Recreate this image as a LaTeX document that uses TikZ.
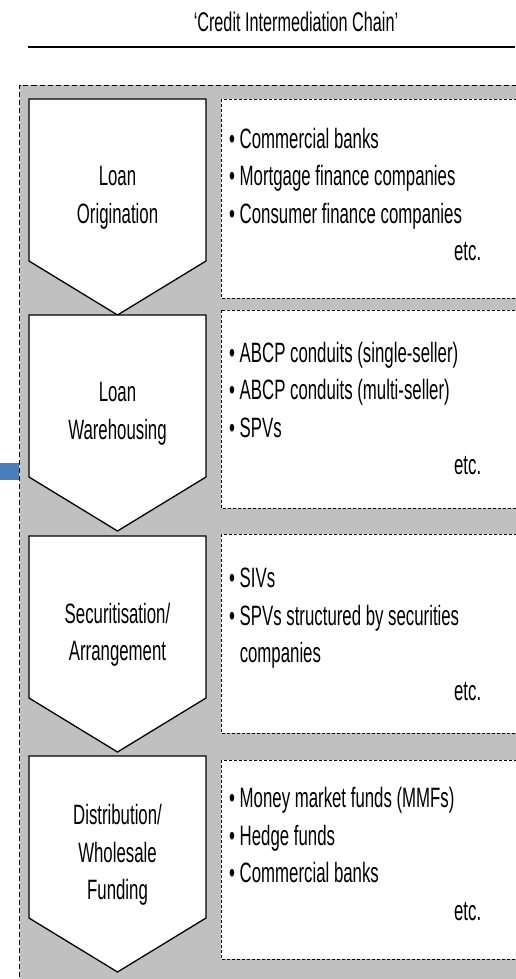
\documentclass[tikz,border=0pt]{standalone}
\usepackage{fontspec}
\setmainfont[FakeStretch=0.6]{Liberation Sans}
\definecolor{panelgray}{HTML}{C0C0C0}
\definecolor{markblue}{HTML}{4A7EBB}
\newcommand{\stagefont}{\fontsize{28}{37.5}\selectfont}

\begin{document}
\begin{tikzpicture}[x=1pt,y=-1pt,
  stage/.style={draw, fill=white, line width=1.3pt, line join=miter},
  stagetext/.style={align=center, font=\stagefont, inner sep=0pt},
  listbox/.style={draw, fill=white, dash pattern=on 3pt off 2pt, line width=0.8pt},
  listtext/.style={anchor=north west, text width=252pt, align=left, font=\stagefont, inner sep=0pt,
    execute at begin node={\spaceskip=0pt\xspaceskip=0pt}}]
\useasboundingbox (0,0) rectangle (515,979);

% Title and rule
\node[font=\fontsize{27}{32}\selectfont] (title) at (296,22) {‘Credit Intermediation Chain’};
\draw[line width=1.8pt] (28,47) -- (515,47);

% Gray panel with dashed edge
\fill[panelgray] (19.5,85) rectangle (520,985);
\draw[dash pattern=on 5pt off 3pt, line width=0.9pt] (19.5,985) -- (19.5,85) -- (520,85);

% Blue marker on the left edge
\fill[markblue] (0,463) rectangle (19,480);

% Chevrons (stages of the chain)
\foreach \top/\name/\lbl in {99/orig/{Loan\\Origination}, 315/ware/{Loan\\Warehousing}, 536/secu/{Securitisation/\\Arrangement}, 756/dist/{Distribution/\\Wholesale\\Funding}} {
  \draw[stage] (29,\top) -- (206,\top) -- (206,\top+162) -- (117.5,\top+216) -- (29,\top+162) -- cycle;
  \node[stagetext] (\name) at (117.5,\top+99) {\lbl};
}

% Dashed boxes with the entities
\foreach \top/\bot in {99/298, 310/508, 534/733, 760/959}
  \draw[listbox] (221,\top) rectangle (520,\bot);

\node[listtext] (origlist) at (229,128) {• Commercial banks\\ • Mortgage finance companies\\ • Consumer finance companies\\ \hspace*{\fill}etc.};
\node[listtext] (warelist) at (229,342) {• ABCP conduits (single-seller)\\ • ABCP conduits (multi-seller)\\ • SPVs\\ \hspace*{\fill}etc.};
\node[listtext] (seculist) at (229,568) {• SIVs\\ • SPVs structured by securities\\ \hphantom{• }companies\\ \hspace*{\fill}etc.};
\node[listtext] (distlist) at (229,787) {• Money market funds (MMFs)\\ • Hedge funds\\ • Commercial banks\\ \hspace*{\fill}etc.};
\end{tikzpicture}
\end{document}
